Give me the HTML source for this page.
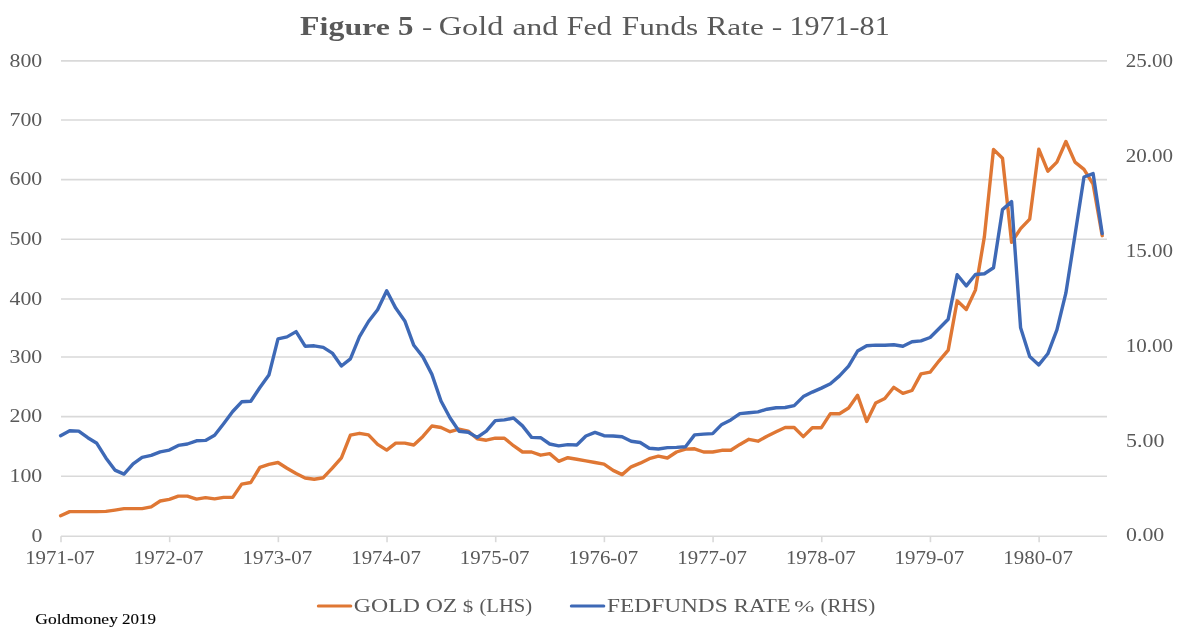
<!DOCTYPE html>
<html><head><meta charset="utf-8"><style>
html,body{margin:0;padding:0;background:#fff;}
body{width:1182px;height:632px;overflow:hidden;position:relative;}
svg{position:absolute;left:0;top:0;will-change:transform;}
text{font-family:"Liberation Serif",serif;}
</style></head><body>
<svg width="1182" height="632" viewBox="0 0 1182 632">

<text transform="translate(300.12,34.80) scale(1.1682,0.985)" font-size="27.3" fill="#595959" font-weight="bold">F</text><text transform="translate(319.59,34.80) scale(1.1682,0.900)" font-size="27.3" fill="#595959" font-weight="bold">i</text><text transform="translate(328.45,34.80) scale(1.1682,1.000)" font-size="27.3" fill="#595959" font-weight="bold">g</text><text transform="translate(344.40,34.80) scale(1.1682,0.850)" font-size="27.3" fill="#595959" font-weight="bold">u</text><text transform="translate(362.12,34.80) scale(1.1682,0.850)" font-size="27.3" fill="#595959" font-weight="bold">r</text><text transform="translate(375.70,34.80) scale(1.1682,0.850)" font-size="27.3" fill="#595959" font-weight="bold">e</text><text transform="translate(397.97,34.80) scale(1.1319,0.970)" font-size="27.3" fill="#595959" font-weight="bold">5</text><text transform="translate(421.97,34.80) scale(1.1286,0.860)" font-size="27.3" fill="#595959">-</text><text transform="translate(438.72,34.80) scale(1.1830,1.000)" font-size="27.3" fill="#595959">G</text><text transform="translate(462.03,34.80) scale(1.1830,0.850)" font-size="27.3" fill="#595959">o</text><text transform="translate(478.19,34.80) scale(1.1830,0.990)" font-size="27.3" fill="#595959">l</text><text transform="translate(487.15,34.80) scale(1.1830,0.990)" font-size="27.3" fill="#595959">d</text><text transform="translate(512.45,34.80) scale(1.1526,0.850)" font-size="27.3" fill="#595959">a</text><text transform="translate(526.41,34.80) scale(1.1526,0.850)" font-size="27.3" fill="#595959">n</text><text transform="translate(542.13,34.80) scale(1.1526,0.990)" font-size="27.3" fill="#595959">d</text><text transform="translate(566.77,34.80) scale(1.1000,1.000)" font-size="27.3" fill="#595959">F</text><text transform="translate(583.46,34.80) scale(1.1000,0.850)" font-size="27.3" fill="#595959">e</text><text transform="translate(596.80,34.80) scale(1.1000,0.990)" font-size="27.3" fill="#595959">d</text><text transform="translate(621.74,34.80) scale(1.1462,1.000)" font-size="27.3" fill="#595959">F</text><text transform="translate(639.13,34.80) scale(1.1462,0.850)" font-size="27.3" fill="#595959">u</text><text transform="translate(654.78,34.80) scale(1.1462,0.850)" font-size="27.3" fill="#595959">n</text><text transform="translate(670.42,34.80) scale(1.1462,0.990)" font-size="27.3" fill="#595959">d</text><text transform="translate(686.07,34.80) scale(1.1462,0.850)" font-size="27.3" fill="#595959">s</text><text transform="translate(706.54,34.80) scale(1.1440,1.000)" font-size="27.3" fill="#595959">R</text><text transform="translate(727.37,34.80) scale(1.1440,0.850)" font-size="27.3" fill="#595959">a</text><text transform="translate(741.22,34.80) scale(1.1440,0.860)" font-size="27.3" fill="#595959">t</text><text transform="translate(749.91,34.80) scale(1.1440,0.850)" font-size="27.3" fill="#595959">e</text><text transform="translate(771.64,34.80) scale(1.1571,0.860)" font-size="27.3" fill="#595959">-</text><text transform="translate(789.44,34.80) scale(1.1020,0.970)" font-size="27.3" fill="#595959">1</text><text transform="translate(804.48,34.80) scale(1.1020,0.970)" font-size="27.3" fill="#595959">9</text><text transform="translate(819.53,34.80) scale(1.1020,0.970)" font-size="27.3" fill="#595959">7</text><text transform="translate(834.56,34.80) scale(1.1020,0.970)" font-size="27.3" fill="#595959">1</text><text transform="translate(849.61,34.80) scale(1.1020,0.860)" font-size="27.3" fill="#595959">-</text><text transform="translate(859.61,34.80) scale(1.1020,0.970)" font-size="27.3" fill="#595959">8</text><text transform="translate(874.66,34.80) scale(1.1020,0.970)" font-size="27.3" fill="#595959">1</text>
<g stroke="#d9d9d9" stroke-width="1.6" fill="none"><line x1="61" y1="476.30" x2="1107" y2="476.30"/><line x1="61" y1="416.60" x2="1107" y2="416.60"/><line x1="61" y1="357.00" x2="1107" y2="357.00"/><line x1="61" y1="299.00" x2="1107" y2="299.00"/><line x1="61" y1="239.30" x2="1107" y2="239.30"/><line x1="61" y1="179.60" x2="1107" y2="179.60"/><line x1="61" y1="120.00" x2="1107" y2="120.00"/><line x1="61" y1="60.90" x2="1107" y2="60.90"/><line x1="61" y1="536.20" x2="1107" y2="536.20"/><line x1="61.00" y1="536.20" x2="61.00" y2="542.20"/><line x1="169.68" y1="536.20" x2="169.68" y2="542.20"/><line x1="278.36" y1="536.20" x2="278.36" y2="542.20"/><line x1="387.04" y1="536.20" x2="387.04" y2="542.20"/><line x1="495.72" y1="536.20" x2="495.72" y2="542.20"/><line x1="604.40" y1="536.20" x2="604.40" y2="542.20"/><line x1="713.08" y1="536.20" x2="713.08" y2="542.20"/><line x1="821.76" y1="536.20" x2="821.76" y2="542.20"/><line x1="930.44" y1="536.20" x2="930.44" y2="542.20"/><line x1="1039.12" y1="536.20" x2="1039.12" y2="542.20"/></g>
<text transform="translate(31.41,541.85) scale(1.0800,0.950)" font-size="20.2" fill="#595959">0</text><text transform="translate(9.54,481.95) scale(1.0800,0.950)" font-size="20.2" fill="#595959">100</text><text transform="translate(9.54,422.25) scale(1.0800,0.950)" font-size="20.2" fill="#595959">200</text><text transform="translate(9.54,362.65) scale(1.0800,0.950)" font-size="20.2" fill="#595959">300</text><text transform="translate(9.54,304.65) scale(1.0800,0.950)" font-size="20.2" fill="#595959">400</text><text transform="translate(9.54,244.95) scale(1.0800,0.950)" font-size="20.2" fill="#595959">500</text><text transform="translate(9.54,185.25) scale(1.0800,0.950)" font-size="20.2" fill="#595959">600</text><text transform="translate(9.54,125.65) scale(1.0800,0.950)" font-size="20.2" fill="#595959">700</text><text transform="translate(9.54,66.55) scale(1.0800,0.950)" font-size="20.2" fill="#595959">800</text>
<text transform="translate(1126.05,541.20) scale(1.0830,0.970)" font-size="20.2" fill="#595959">0.00</text><text transform="translate(1126.04,447.04) scale(1.0860,0.955)" font-size="20.2" fill="#595959">5.00</text><text transform="translate(1125.76,351.98) scale(1.0430,0.955)" font-size="20.2" fill="#595959">10.00</text><text transform="translate(1125.76,256.92) scale(1.0430,0.955)" font-size="20.2" fill="#595959">15.00</text><text transform="translate(1125.76,161.86) scale(1.0430,0.955)" font-size="20.2" fill="#595959">20.00</text><text transform="translate(1125.76,66.80) scale(1.0430,0.955)" font-size="20.2" fill="#595959">25.00</text>
<text transform="translate(25.15,564.35) scale(1.0350,0.940)" font-size="20.2" fill="#595959">1971-07</text><text transform="translate(133.83,564.35) scale(1.0350,0.940)" font-size="20.2" fill="#595959">1972-07</text><text transform="translate(242.51,564.35) scale(1.0350,0.940)" font-size="20.2" fill="#595959">1973-07</text><text transform="translate(351.19,564.35) scale(1.0350,0.940)" font-size="20.2" fill="#595959">1974-07</text><text transform="translate(459.87,564.35) scale(1.0350,0.940)" font-size="20.2" fill="#595959">1975-07</text><text transform="translate(568.55,564.35) scale(1.0350,0.940)" font-size="20.2" fill="#595959">1976-07</text><text transform="translate(677.23,564.35) scale(1.0350,0.940)" font-size="20.2" fill="#595959">1977-07</text><text transform="translate(785.91,564.35) scale(1.0350,0.940)" font-size="20.2" fill="#595959">1978-07</text><text transform="translate(894.59,564.35) scale(1.0350,0.940)" font-size="20.2" fill="#595959">1979-07</text><text transform="translate(1003.27,564.35) scale(1.0350,0.940)" font-size="20.2" fill="#595959">1980-07</text>
<polyline points="60.6,515.8 69.7,511.6 78.7,511.6 87.8,511.6 96.8,511.6 105.9,511.4 114.9,510.1 124.0,508.6 133.1,508.6 142.1,508.6 151.2,506.9 160.2,501.0 169.3,499.3 178.3,496.1 187.4,496.1 196.5,499.1 205.5,497.6 214.6,498.9 223.6,497.4 232.7,497.4 241.7,484.1 250.8,482.5 259.9,467.3 268.9,464.4 278.0,462.5 287.0,468.3 296.1,473.5 305.1,478.0 314.2,479.2 323.3,477.7 332.3,468.2 341.4,457.8 350.4,435.1 359.5,433.3 368.5,434.9 377.6,444.4 386.7,450.1 395.7,443.1 404.8,443.1 413.8,445.0 422.9,436.4 431.9,426.0 441.0,427.5 450.1,431.7 459.1,429.2 468.2,431.1 477.2,438.7 486.3,440.2 495.3,438.2 504.4,438.2 513.5,445.7 522.5,452.0 531.6,452.0 540.6,455.2 549.7,453.6 558.7,461.3 567.8,457.7 576.8,459.2 585.9,460.9 595.0,462.5 604.0,464.1 613.1,470.4 622.1,474.6 631.2,466.8 640.2,463.2 649.3,458.7 658.4,456.2 667.4,458.0 676.5,452.0 685.5,449.1 694.6,448.8 703.6,452.0 712.7,452.0 721.8,450.3 730.8,450.3 739.9,444.4 748.9,439.3 758.0,441.2 767.0,436.2 776.1,431.8 785.2,427.5 794.2,427.5 803.3,436.6 812.3,427.7 821.4,427.7 830.4,413.7 839.5,413.7 848.6,408.0 857.6,395.3 866.7,421.4 875.7,403.0 884.8,398.5 893.8,387.3 902.9,393.3 912.0,390.5 921.0,373.9 930.1,372.2 939.1,360.8 948.2,350.1 957.2,300.8 966.3,309.5 975.4,290.1 984.4,236.6 993.5,149.4 1002.5,158.2 1011.6,242.2 1020.6,228.6 1029.7,219.1 1038.8,149.1 1047.8,171.2 1056.9,162.1 1065.9,141.5 1075.0,162.1 1084.0,169.3 1093.1,184.2 1102.2,235.7" fill="none" stroke="#DF7734" stroke-width="3.4" stroke-linejoin="round" stroke-linecap="round"/>
<polyline points="60.6,435.7 69.7,430.7 78.7,431.1 87.8,437.7 96.8,443.3 105.9,457.9 114.9,470.1 124.0,474.1 133.1,463.8 142.1,457.3 151.2,455.4 160.2,451.8 169.3,450.1 178.3,445.4 187.4,444.0 196.5,440.8 205.5,440.4 214.6,435.3 223.6,423.7 232.7,411.5 241.7,401.8 250.8,401.2 259.9,387.5 268.9,375.1 278.0,338.8 287.0,336.9 296.1,331.6 305.1,346.2 314.2,345.8 323.3,347.4 332.3,353.1 341.4,366.0 350.4,358.8 359.5,336.7 368.5,321.5 377.6,309.7 386.7,290.8 395.7,308.1 404.8,320.9 413.8,345.3 422.9,356.9 431.9,374.4 441.0,401.0 450.1,418.0 459.1,431.3 468.2,432.2 477.2,437.4 486.3,431.1 495.3,420.6 504.4,419.9 513.5,418.0 522.5,425.9 531.6,437.4 540.6,437.7 549.7,444.0 558.7,445.9 567.8,444.6 576.8,445.0 585.9,436.0 595.0,432.4 604.0,435.7 613.1,436.0 622.1,436.8 631.2,441.2 640.2,442.5 649.3,448.2 658.4,449.0 667.4,447.6 676.5,447.4 685.5,446.7 694.6,434.9 703.6,434.1 712.7,433.6 721.8,424.4 730.8,419.9 739.9,413.6 748.9,412.8 758.0,411.9 767.0,409.2 776.1,407.7 785.2,407.5 794.2,405.6 803.3,396.6 812.3,392.1 821.4,388.1 830.4,383.7 839.5,375.9 848.6,366.2 857.6,351.0 866.7,345.8 875.7,345.1 884.8,345.3 893.8,344.7 902.9,346.2 912.0,341.8 921.0,340.9 930.1,337.5 939.1,328.5 948.2,319.2 957.2,274.7 966.3,285.9 975.4,274.5 984.4,273.7 993.5,267.8 1002.5,209.6 1011.6,201.6 1020.6,327.8 1029.7,356.5 1038.8,364.9 1047.8,353.8 1056.9,329.8 1065.9,292.9 1075.0,235.1 1084.0,177.0 1093.1,173.6 1102.2,233.6" fill="none" stroke="#3E69B6" stroke-width="3.4" stroke-linejoin="round" stroke-linecap="round"/>
<line x1="318.3" y1="605.9" x2="350.8" y2="605.9" stroke="#DF7734" stroke-width="3" stroke-linecap="round"/>

<line x1="571.3" y1="605.9" x2="603.8" y2="605.9" stroke="#3E69B6" stroke-width="3" stroke-linecap="round"/>
<text transform="translate(353.81,611.60) scale(1.1907,0.950)" font-size="20.0" fill="#595959">G</text><text transform="translate(371.00,611.60) scale(1.1907,0.950)" font-size="20.0" fill="#595959">O</text><text transform="translate(388.19,611.60) scale(1.1907,0.950)" font-size="20.0" fill="#595959">L</text><text transform="translate(402.74,611.60) scale(1.1907,0.950)" font-size="20.0" fill="#595959">D</text><text transform="translate(425.71,611.60) scale(1.1879,0.950)" font-size="20.0" fill="#595959">O</text><text transform="translate(442.86,611.60) scale(1.1879,0.950)" font-size="20.0" fill="#595959">Z</text><text transform="translate(462.81,611.60) scale(1.0471,0.850)" font-size="20.0" fill="#595959">$</text><text transform="translate(479.47,611.60) scale(1.0315,0.930)" font-size="20.0" fill="#595959">(</text><text transform="translate(486.33,611.60) scale(1.0315,0.950)" font-size="20.0" fill="#595959">L</text><text transform="translate(498.94,611.60) scale(1.0315,0.950)" font-size="20.0" fill="#595959">H</text><text transform="translate(513.83,611.60) scale(1.0315,0.950)" font-size="20.0" fill="#595959">S</text><text transform="translate(525.30,611.60) scale(1.0315,0.930)" font-size="20.0" fill="#595959">)</text><text transform="translate(607.12,611.60) scale(1.1665,0.950)" font-size="20.0" fill="#595959">F</text><text transform="translate(620.08,611.60) scale(1.1665,0.950)" font-size="20.0" fill="#595959">E</text><text transform="translate(634.33,611.60) scale(1.1665,0.950)" font-size="20.0" fill="#595959">D</text><text transform="translate(651.19,611.60) scale(1.1665,0.950)" font-size="20.0" fill="#595959">F</text><text transform="translate(664.17,611.60) scale(1.1665,0.950)" font-size="20.0" fill="#595959">U</text><text transform="translate(681.01,611.60) scale(1.1665,0.950)" font-size="20.0" fill="#595959">N</text><text transform="translate(697.85,611.60) scale(1.1665,0.950)" font-size="20.0" fill="#595959">D</text><text transform="translate(714.71,611.60) scale(1.1665,0.950)" font-size="20.0" fill="#595959">S</text><text transform="translate(733.83,611.60) scale(1.1381,0.950)" font-size="20.0" fill="#595959">R</text><text transform="translate(749.00,611.60) scale(1.1381,0.950)" font-size="20.0" fill="#595959">A</text><text transform="translate(762.92,611.60) scale(1.1381,0.950)" font-size="20.0" fill="#595959">T</text><text transform="translate(776.83,611.60) scale(1.1381,0.950)" font-size="20.0" fill="#595959">E</text><text transform="translate(794.20,611.60) scale(1.2066,0.850)" font-size="20.0" fill="#595959">%</text><text transform="translate(820.45,611.60) scale(1.0488,0.930)" font-size="20.0" fill="#595959">(</text><text transform="translate(827.43,611.60) scale(1.0488,0.950)" font-size="20.0" fill="#595959">R</text><text transform="translate(841.43,611.60) scale(1.0488,0.950)" font-size="20.0" fill="#595959">H</text><text transform="translate(856.57,611.60) scale(1.0488,0.950)" font-size="20.0" fill="#595959">S</text><text transform="translate(868.24,611.60) scale(1.0488,0.930)" font-size="20.0" fill="#595959">)</text>
<text transform="translate(35.32,624.06) scale(1.1658,1.000)" font-size="15" fill="#000" stroke="#000" stroke-width="0.12">G</text><text transform="translate(47.94,624.06) scale(1.1658,0.920)" font-size="15" fill="#000" stroke="#000" stroke-width="0.12">o</text><text transform="translate(56.68,624.06) scale(1.1658,1.000)" font-size="15" fill="#000" stroke="#000" stroke-width="0.12">l</text><text transform="translate(61.55,624.06) scale(1.1658,1.000)" font-size="15" fill="#000" stroke="#000" stroke-width="0.12">d</text><text transform="translate(70.29,624.06) scale(1.1658,0.920)" font-size="15" fill="#000" stroke="#000" stroke-width="0.12">m</text><text transform="translate(83.88,624.06) scale(1.1658,0.920)" font-size="15" fill="#000" stroke="#000" stroke-width="0.12">o</text><text transform="translate(92.63,624.06) scale(1.1658,0.920)" font-size="15" fill="#000" stroke="#000" stroke-width="0.12">n</text><text transform="translate(101.37,624.06) scale(1.1658,0.920)" font-size="15" fill="#000" stroke="#000" stroke-width="0.12">e</text><text transform="translate(109.13,624.06) scale(1.1658,0.970)" font-size="15" fill="#000" stroke="#000" stroke-width="0.12">y</text><text transform="translate(121.95,624.06) scale(1.1339,1.000)" font-size="15" fill="#000" stroke="#000" stroke-width="0.12">2</text><text transform="translate(130.45,624.06) scale(1.1339,1.000)" font-size="15" fill="#000" stroke="#000" stroke-width="0.12">0</text><text transform="translate(138.96,624.06) scale(1.1339,1.000)" font-size="15" fill="#000" stroke="#000" stroke-width="0.12">1</text><text transform="translate(147.46,624.06) scale(1.1339,1.000)" font-size="15" fill="#000" stroke="#000" stroke-width="0.12">9</text>
</svg>
</body></html>
